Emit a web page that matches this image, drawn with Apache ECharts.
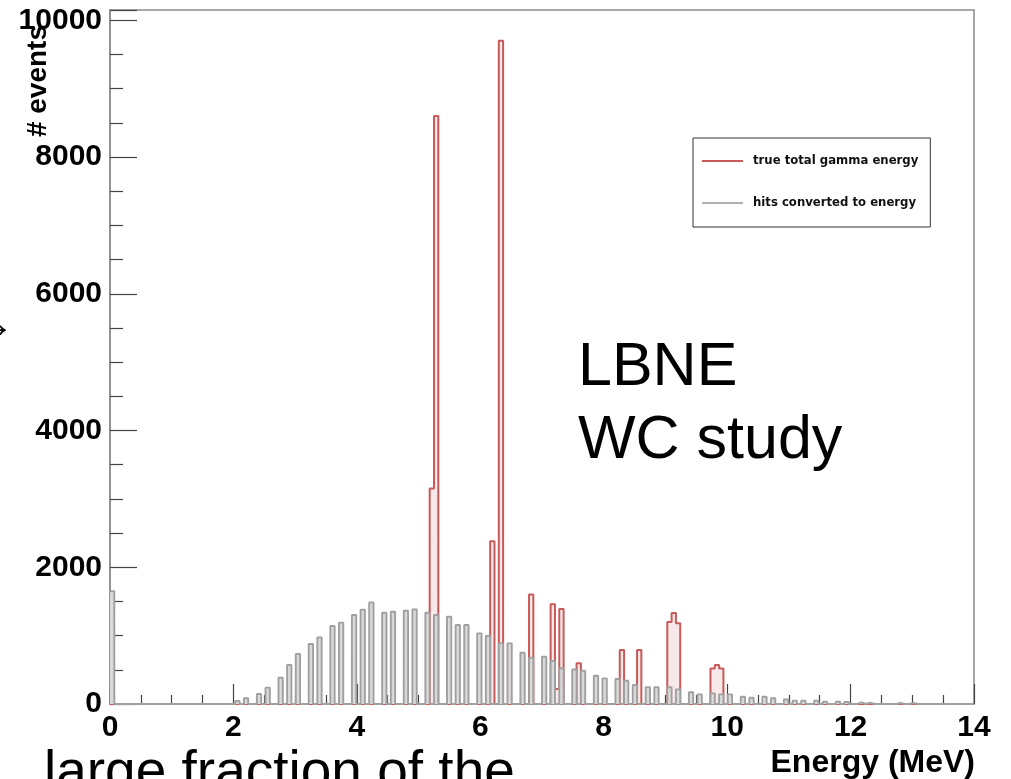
<!DOCTYPE html>
<html><head><meta charset="utf-8">
<script src="https://cdn.jsdelivr.net/npm/echarts@6/dist/echarts.min.js"></script>
<style>html,body{margin:0;padding:0;background:#fff}#chart{width:1011px;height:779px}</style>
</head><body><div id="chart"></div>
<script>
// ---- data (histogram: 200 bins of 0.07 MeV over 0..14 MeV) ----
const BIN_WIDTH = 0.07;
const N_BINS = 200;
const xTickLabels = ['0', '2', '4', '6', '8', '10', '12', '14'];
const yTickLabels = ['0', '2000', '4000', '6000', '8000', '10000'];
const seriesNames = ['true total gamma energy', 'hits converted to energy'];

// true total gamma energy: non-empty bin indices and counts
const redBins = [74, 75, 88, 90, 97, 102, 103, 104, 108, 118, 122, 129, 130, 131, 139, 140, 141];
const redCounts = [3150, 8600, 2380, 9700, 1600, 1460, 220, 1390, 595, 790, 790, 1200, 1330, 1180, 520, 570, 520];

// hits converted to energy: non-empty bin indices and counts
const grayBins = [0, 29, 31, 34, 36, 39, 41, 43, 46, 48, 51, 53, 56, 58, 60, 63, 65, 68, 70, 73,
  75, 78, 80, 82, 85, 87, 90, 92, 95, 97, 100, 102, 104, 107, 109, 112, 114, 117, 119, 121,
  124, 126, 129, 131, 134, 136, 139, 141, 143, 146, 148, 151, 153, 156, 158, 160, 163, 165, 168, 170,
  173, 175, 182, 185];
const grayCounts = [1650, 45, 85, 146, 239, 385, 570, 731, 877, 975, 1140, 1190, 1301, 1380, 1486, 1335, 1350, 1364, 1384, 1335,
  1301, 1277, 1155, 1155, 1033, 994, 887, 887, 750, 677, 692, 629, 522, 507, 487, 414, 375, 365, 341, 278,
  244, 244, 244, 214, 171, 141, 156, 141, 141, 107, 92, 107, 83, 68, 49, 49, 49, 34, 34, 30,
  25, 20, 15, 15];

// build step-outline points from bin edges
function toSteps(bins, counts) {
  const full = new Array(N_BINS).fill(0);
  bins.forEach((b, i) => { full[b] = counts[i]; });
  const pts = [];
  full.forEach((v, i) => {
    pts.push([+(i * BIN_WIDTH).toFixed(4), v]);
    pts.push([+((i + 1) * BIN_WIDTH).toFixed(4), v]);
  });
  return pts;
}

const chart = echarts.init(document.getElementById('chart'), null, { renderer: 'canvas' });
const FONT = 'Liberation Sans, Arial, Helvetica, sans-serif';
const RED = '#c85a5a';
const GRAY = '#a0a0a0';

chart.setOption({
  animation: false,
  backgroundColor: '#fff',
  grid: { left: 110, right: 37, top: 10, bottom: 75, show: true, borderColor: '#8c8c8c', borderWidth: 1.5, backgroundColor: '#fff' },
  legend: {
    orient: 'vertical', left: 693, top: 138, padding: [16, 12, 17, 9],
    itemWidth: 41, itemHeight: 2, itemGap: 28, icon: 'rect',
    borderColor: '#333', borderWidth: 1, backgroundColor: '#fff',
    textStyle: { fontFamily: 'DejaVu Sans', fontWeight: 'bold', fontSize: 11.7, color: '#111', lineHeight: 14, padding: [0, 0, 0, 5] },
    data: seriesNames
  },
  xAxis: {
    type: 'value', min: 0, max: 14, interval: 2,
    axisLine: { show: true, onZero: false, lineStyle: { color: '#8c8c8c', width: 1.5 } },
    axisTick: { show: true, inside: true, length: 20, lineStyle: { color: '#444', width: 1.2 } },
    minorTick: { show: true, splitNumber: 4, length: 9, lineStyle: { color: '#444', width: 1.2 } },
    splitLine: { show: false },
    axisLabel: { margin: 9, fontFamily: FONT, fontWeight: 'bold', fontSize: 30, color: '#000',
      formatter: v => (xTickLabels.includes(String(v)) ? String(v) : '') },
    name: 'Energy (MeV)', nameLocation: 'end', nameGap: 1, nameMoveOverlap: false,
    nameTextStyle: { fontFamily: FONT, fontWeight: 'bold', fontSize: 32, color: '#000', align: 'right', verticalAlign: 'top', padding: [43, 0, 0, 0] }
  },
  yAxis: {
    type: 'value', min: 0, max: 10150, interval: 2000,
    axisLine: { show: true, onZero: false, lineStyle: { color: '#8c8c8c', width: 1.5 } },
    axisTick: { show: true, inside: true, length: 27, lineStyle: { color: '#444', width: 1.2 } },
    minorTick: { show: true, splitNumber: 4, length: 13, lineStyle: { color: '#444', width: 1.2 } },
    splitLine: { show: false },
    axisLabel: { margin: 8, fontFamily: FONT, fontWeight: 'bold', fontSize: 30, color: '#000',
      formatter: v => (yTickLabels.includes(String(v)) ? String(v) : '') },
    name: '# events', nameLocation: 'end', nameRotate: 90, nameGap: -15, nameMoveOverlap: false,
    nameTextStyle: { fontFamily: FONT, fontWeight: 'bold', fontSize: 28, color: '#000', align: 'right', verticalAlign: 'bottom', padding: [0, 0, 58, 0] }
  },
  series: [
    {
      name: seriesNames[0], type: 'line', data: toSteps(redBins, redCounts),
      symbol: 'none', showSymbol: false, z: 2,
      lineStyle: { color: RED, width: 2 }, itemStyle: { color: RED },
      areaStyle: { color: 'rgba(205,110,110,0.22)' }
    },
    {
      name: seriesNames[1], type: 'line', data: toSteps(grayBins, grayCounts),
      symbol: 'none', showSymbol: false, z: 3,
      lineStyle: { color: GRAY, width: 1.9 }, itemStyle: { color: '#b0b0b0' },
      areaStyle: { color: '#dadada', opacity: 1 }
    }
  ],
  graphic: [
    { type: 'text', x: 578, y: 332, z: 10,
      style: { text: 'LBNE\nWC study', fontFamily: FONT, fontSize: 61, lineHeight: 73, fill: '#000', align: 'left', verticalAlign: 'top' } },
    { type: 'text', x: 44, y: 774, z: 10,
      style: { text: 'large fraction of the', fontFamily: FONT, fontSize: 55, fill: '#000', align: 'left', verticalAlign: 'middle' } },
    { type: 'text', x: 14, y: 326, z: 10,
      style: { text: '→', fontFamily: FONT, fontSize: 40, fill: '#000', align: 'right', verticalAlign: 'middle' } }
  ]
});
</script></body></html>
